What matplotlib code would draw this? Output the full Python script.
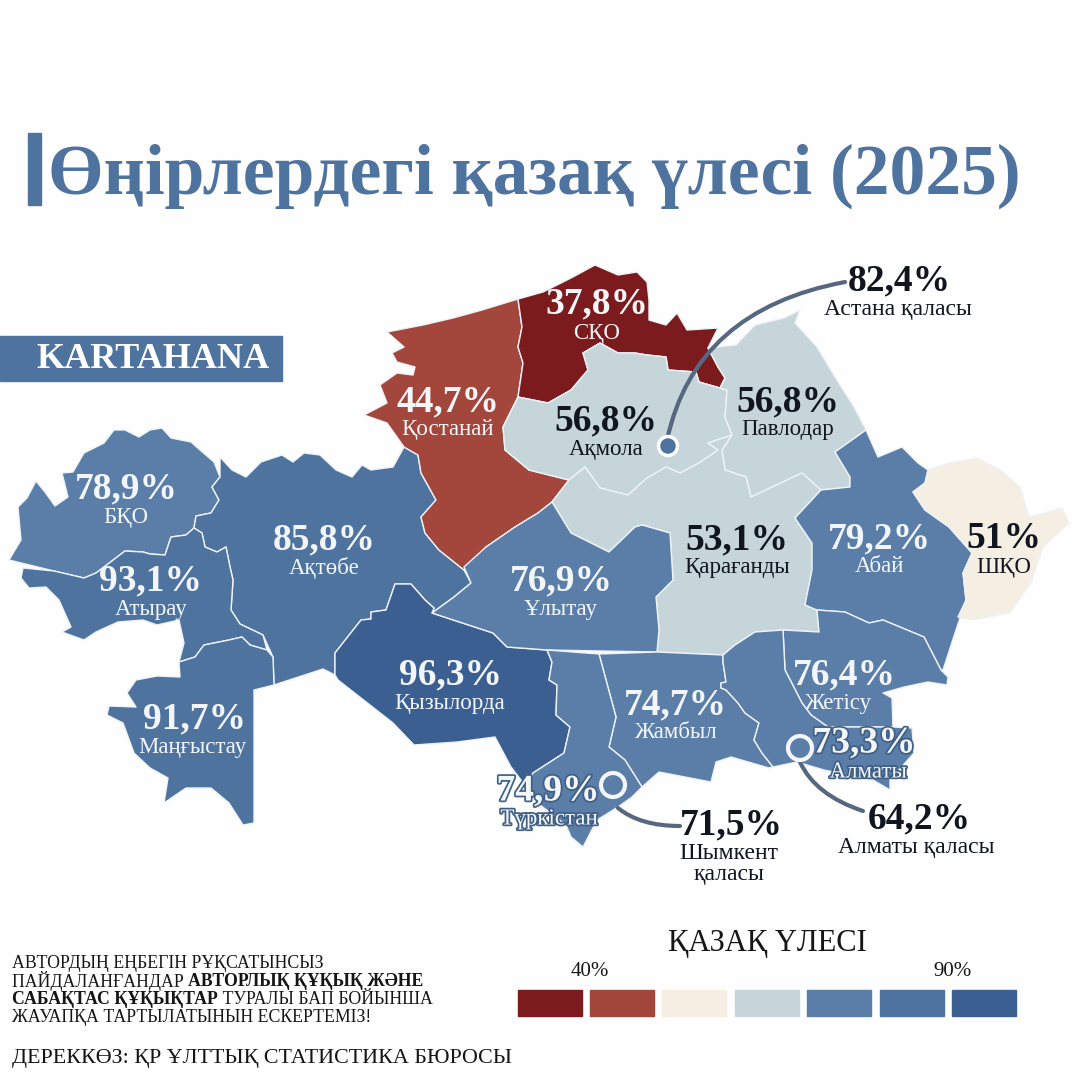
import numpy as np
import matplotlib
matplotlib.use('Agg')
import matplotlib.pyplot as plt
import matplotlib.patheffects as pe
from matplotlib.patches import Polygon, Rectangle, Circle, PathPatch
from matplotlib.path import Path

plt.rcParams['font.family'] = ['Liberation Serif', 'DejaVu Serif']

regions = ['БҚО', 'Ақтөбе', 'Атырау', 'Маңғыстау', 'Қызылорда', 'Қостанай', 'СҚО', 'Ақмола', 'Павлодар',
           'Қарағанды', 'Абай', 'ШҚО', 'Ұлытау', 'Жамбыл', 'Жетісу', 'Алматы', 'Түркістан']
shares = [78.9, 85.8, 93.1, 91.7, 96.3, 44.7, 37.8, 56.8, 56.8, 53.1, 79.2, 51, 76.9, 74.7, 76.4, 73.3, 74.9]

cities = ['Астана қаласы', 'Шымкент\nқаласы', 'Алматы қаласы']
city_shares = [82.4, 71.5, 64.2]

legend_colors = ['#7b1b1d', '#a3463b', '#f4eee3', '#c6d5da', '#5a7ea8', '#4f739f', '#3b5f90']
legend_bins = [40, 50, 52, 60, 80, 95]

# region outlines, in image pixels
outlines = {
    'БҚО': [(9,560),(21,540),(18,507),(27,498),(36,481),(45,492),(55,506),(68,497),(62,473),(73,472),(84,453),
            (104,443),(114,430),(125,430),(139,437),(150,430),(162,428),(171,438),(191,442),(200,450),(214,462),
            (220,477),(212,487),(219,500),(211,513),(196,516),(194,528),(186,535),(171,537),(165,555),(150,554),
            (143,552),(125,551),(104,567),(96,573),(84,578),(54,571)],
    'Атырау': [(23,568),(54,571),(84,578),(96,573),(104,567),(125,551),(143,552),(150,554),(165,555),(171,537),
               (186,535),(194,528),(202,533),(205,547),(217,552),(226,547),(230,567),(233,580),(231,610),(240,624),
               (263,635),(267,650),(250,645),(242,637),(229,640),(204,645),(195,657),(179,662),(184,643),(179,620),
               (157,625),(143,620),(118,622),(96,632),(84,640),(62,632),(71,627),(59,600),(46,587),(29,588),(21,578)],
    'Маңғыстау': [(179,662),(180,677),(157,676),(136,680),(127,693),(136,707),(109,706),(107,715),(123,723),
                  (134,753),(150,768),(168,778),(164,803),(186,788),(211,788),(229,803),(243,825),(254,823),
                  (254,690),(274,685),(273,657),(267,650),(250,645),(242,637),(229,640),(204,645),(195,657)],
    'Ақтөбе': [(274,685),(273,657),(263,635),(240,624),(231,610),(233,580),(230,567),(226,547),(217,552),(205,547),
               (202,533),(194,528),(196,516),(211,513),(219,500),(212,487),(220,477),(220,457),(232,470),(246,477),
               (261,462),(282,455),(293,462),(304,453),(320,455),(336,470),(352,477),(362,465),(371,470),(393,467),
               (404,447),(418,455),(421,473),(436,500),(421,517),(425,533),(439,550),(464,570),(471,583),(454,597),
               (432,613),(434,608),(425,600),(411,584),(395,584),(386,610),(371,612),(371,619),(361,620),(335,653),
               (335,675),(323,669)],
    'Қызылорда': [(335,653),(361,620),(371,619),(371,612),(386,610),(395,584),(411,584),(425,600),(434,608),
                  (432,613),(493,633),(507,647),(547,650),(552,662),(549,680),(557,685),(556,715),(570,727),
                  (564,753),(533,773),(525,787),(521,780),(511,767),(495,737),(457,742),(414,745),(393,723),
                  (338,680),(335,675)],
    'Ұлытау': [(432,613),(454,597),(471,583),(464,567),(486,547),(515,527),(538,513),(552,502),(571,533),(609,552),
               (635,527),(642,525),(670,533),(673,580),(656,597),(659,630),(657,652),(547,650),(507,647),(493,633)],
    'Қостанай': [(518,299),(482,310),(453,318),(423,325),(387,332),(404,347),(392,353),(397,362),(415,367),(413,375),
                 (397,373),(380,385),(387,403),(364,415),(387,423),(404,447),(418,455),(421,473),(436,500),(421,517),
                 (425,533),(439,550),(464,570),(486,547),(515,527),(538,513),(552,502),(569,480),(557,477),(529,470),
                 (505,450),(503,427),(510,413),(518,397),(523,363),(518,347),(522,327)],
    'СҚО': [(518,299),(543,292),(571,278),(595,265),(618,275),(637,272),(647,282),(649,300),(649,320),(666,325),
            (677,313),(687,330),(718,328),(708,348),(718,367),(725,378),(720,388),(699,382),(696,372),(668,370),
            (666,357),(647,355),(635,353),(618,353),(600,343),(583,353),(588,370),(571,390),(548,403),(518,397),
            (523,363),(518,347),(522,327)],
    'Ақмола': [(548,403),(571,390),(588,370),(583,353),(600,343),(618,353),(635,353),(647,355),(666,357),(668,370),
               (696,372),(699,382),(720,388),(727,390),(725,417),(732,435),(708,443),(718,450),(699,463),(680,473),
               (666,467),(647,478),(628,495),(600,488),(585,467),(569,480),(557,477),(529,470),(505,450),(503,427),
               (510,413),(518,397)],
    'Қарағанды': [(569,480),(585,467),(600,488),(628,495),(647,478),(666,467),(680,473),(699,463),(718,450),(708,443),
                  (732,435),(722,450),(725,470),(746,477),(751,497),(802,473),(821,490),(795,518),(812,543),(812,570),
                  (805,605),(817,610),(819,632),(783,630),(755,632),(735,645),(723,655),(657,652),(659,630),(656,597),
                  (673,580),(670,533),(642,525),(635,527),(609,552),(571,533),(552,502)],
    'Павлодар': [(725,378),(718,367),(708,348),(736,345),(755,325),(784,318),(800,310),(795,323),(817,347),(835,377),
                 (854,407),(866,430),(835,452),(850,477),(850,487),(821,490),(802,473),(751,497),(746,477),(725,470),
                 (722,450),(732,435),(725,417),(727,390),(720,388)],
    'Абай': [(866,430),(878,457),(902,447),(918,463),(928,470),(925,483),(913,492),(925,510),(949,527),(972,553),
             (963,573),(966,600),(955,633),(943,670),(941,670),(924,637),(883,620),(869,623),(845,612),(817,610),
             (805,605),(812,570),(812,543),(795,518),(821,490),(850,487),(850,477),(835,452)],
    'ШҚО': [(928,470),(949,463),(977,458),(1000,470),(1020,487),(1029,517),(1062,508),(1069,523),(1043,547),(1031,583),
            (1010,613),(972,620),(958,617),(966,600),(963,573),(972,553),(949,527),(925,510),(913,492),(925,483)],
    'Жетісу': [(783,630),(819,632),(817,610),(845,612),(869,623),(883,620),(924,637),(941,670),(948,677),(947,685),
               (928,682),(904,687),(883,693),(892,698),(893,727),(828,727),(811,715),(802,703),(785,670)],
    'Алматы': [(783,630),(785,670),(802,703),(811,715),(828,727),(893,727),(912,728),(914,753),(890,780),(890,790),
               (873,780),(824,770),(797,762),(773,767),(762,753),(754,740),(759,723),(745,713),(738,703),(726,690),
               (721,688),(721,683),(726,682),(723,662),(723,655),(735,645),(755,632)],
    'Жамбыл': [(723,655),(657,652),(599,654),(616,717),(609,747),(625,760),(642,787),(659,772),(711,782),(716,762),
               (731,757),(769,768),(773,767),(762,753),(754,740),(759,723),(745,713),(738,703),(726,690),(721,688),
               (721,683),(726,682),(723,662)],
    'Түркістан': [(547,650),(599,654),(616,717),(609,747),(625,760),(642,787),(632,797),(618,807),(597,820),(583,847),
                  (571,837),(566,825),(540,805),(525,787),(533,773),(564,753),(570,727),(556,715),(557,685),(549,680),
                  (552,662)],
}

# label anchors, same order as regions
share_pos = [(126,489),(324,540),(151,581),(195,719),(450,675),(448,402),(597,304),(606,421),(788,402),
             (737,540),(879,539),(1004,539),(561,581),(675,705),(844,675),(864,743),(548,791)]
name_pos = [(126,517),(324,568),(151,609),(192,748),(450,703),(448,430),(597,333),(606,449),(788,430),
            (737,568),(879,567),(1004,568),(561,610),(675,733),(838,703),(868,772),(549,819)]
dark_labels = ['Ақмола', 'Павлодар', 'Қарағанды', 'ШҚО']
outlined_labels = ['Алматы', 'Түркістан']


def pct(v):
    return (f'{v:.1f}' if v != int(v) else f'{int(v)}').replace('.', ',') + '%'


fig = plt.figure(figsize=(10.8, 10.8), dpi=100, facecolor='#fefefe')
ax = fig.add_axes([0, 0, 1, 1])
ax.set_xlim(0, 1080)
ax.set_ylim(1080, 0)
ax.axis('off')

# title
ax.add_patch(Rectangle((28, 133), 13, 72, color='#4f739f'))
ax.text(48, 176, 'Өңірлердегі қазақ үлесі (2025)', fontsize=51.5, fontweight='bold', color='#4f739f',
        ha='left', va='center')
ax.add_patch(Rectangle((0, 336), 282, 45, color='#4f739f'))
ax.text(36, 359, 'KARTAHANA', fontsize=26, fontweight='bold', color='white', ha='left', va='center')

# map
idx = np.digitize(shares, legend_bins)
for name, i in zip(regions, idx):
    ax.add_patch(Polygon(outlines[name], closed=True, facecolor=legend_colors[i], edgecolor='#eef3f7',
                         linewidth=1.0, joinstyle='round'))

for name, v, p, q in zip(regions, shares, share_pos, name_pos):
    col = '#10151f' if name in dark_labels else '#f3f6f8'
    t1 = ax.text(p[0], p[1], pct(v), fontsize=27, fontweight='bold', color=col, ha='center', va='center')
    t2 = ax.text(q[0], q[1], name, fontsize=16.5, color=col, ha='center', va='center')
    if name in outlined_labels:
        for t in (t1, t2):
            t.set_path_effects([pe.withStroke(linewidth=2.5, foreground='#3f5f85')])

# city callouts
curves = [[(667, 440), (695, 310), (845, 282)],
          [(618, 808), (640, 826), (680, 826)],
          [(800, 762), (815, 795), (863, 811)]]
for c in curves:
    ax.add_patch(PathPatch(Path(c, [Path.MOVETO, Path.CURVE3, Path.CURVE3]), facecolor='none',
                           edgecolor='#56677f', linewidth=3, capstyle='round'))
ax.add_patch(Circle((668, 446), 9.5, facecolor='#4f739f', edgecolor='white', linewidth=2.5))
ax.add_patch(Circle((613, 785), 12, facecolor='none', edgecolor='#f3f6f8', linewidth=3))
ax.add_patch(Circle((800, 748), 12, facecolor='none', edgecolor='#f3f6f8', linewidth=3))

city_pct_pos = [(899, 281), (731, 825), (919, 819)]
city_name_pos = [(898, 310), (729, 864), (916, 847)]
for name, v, p, q in zip(cities, city_shares, city_pct_pos, city_name_pos):
    ax.text(p[0], p[1], pct(v), fontsize=27, fontweight='bold', color='#10151f', ha='center', va='center')
    ax.text(q[0], q[1], name, fontsize=17, color='#10151f', ha='center', va='center', linespacing=1.05)

# legend
swatch_left = [518, 590, 662, 735, 807, 880, 952]
for x, c in zip(swatch_left, legend_colors):
    ax.add_patch(Rectangle((x, 990), 64, 26, color=c))
ax.text(767, 943, 'ҚАЗАҚ ҮЛЕСІ', fontsize=22, color='#151515', ha='center', va='center')
ax.text(590, 972, '40%', fontsize=15, color='#151515', ha='center', va='center')
ax.text(953, 972, '90%', fontsize=15, color='#151515', ha='center', va='center')

# footer
foot = dict(fontsize=12.75, color='#151515', va='center')
ax.text(12, 963, 'АВТОРДЫҢ ЕҢБЕГІН РҰҚСАТЫНСЫЗ', ha='left', **foot)
a = ax.text(12, 981, 'ПАЙДАЛАНҒАНДАР ', ha='left', **foot)
ax.annotate('АВТОРЛЫҚ ҚҰҚЫҚ ЖӘНЕ', xy=(1, 0.5), xycoords=a, fontweight='bold', ha='left', **foot)
b = ax.text(12, 999, 'САБАҚТАС ҚҰҚЫҚТАР', fontweight='bold', ha='left', **foot)
ax.annotate(' ТУРАЛЫ БАП БОЙЫНША', xy=(1, 0.5), xycoords=b, ha='left', **foot)
ax.text(12, 1017, 'ЖАУАПҚА ТАРТЫЛАТЫНЫН ЕСКЕРТЕМІЗ!', ha='left', **foot)
ax.text(12, 1058, 'ДЕРЕККӨЗ: ҚР ҰЛТТЫҚ СТАТИСТИКА БЮРОСЫ', fontsize=15.8, color='#151515', ha='left', va='center')

fig.savefig('out.png', dpi=100, facecolor=fig.get_facecolor())
